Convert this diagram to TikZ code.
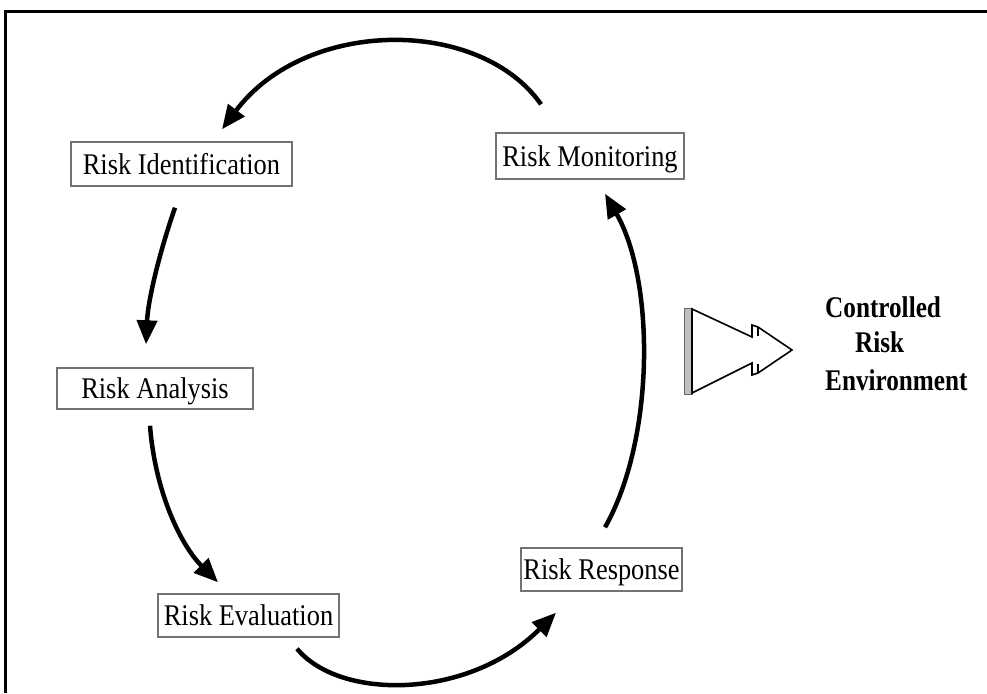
\documentclass[tikz,border=0pt]{standalone}
\usepackage{graphicx}
\usepackage{fontspec}
\setmainfont{Liberation Serif}
\usetikzlibrary{arrows.meta}
% slightly condensed lettering
\newcommand{\narrowtext}[1]{\scalebox{0.88}[1]{#1}}
\newcommand{\narrowbold}[1]{\scalebox{0.84}[1]{\bfseries #1}}
\begin{document}
\begin{tikzpicture}[x=1pt,y=-1pt,
  stage/.style={draw=black!55, line width=1.4pt, inner sep=0pt,
    text height=20pt, text depth=0pt, font=\fontsize{30}{36}\selectfont},
  ctext/.style={inner sep=0pt, anchor=base west, font=\fontsize{30}{36}\selectfont},
  flow/.style={line width=4.5pt, -{Triangle[length=24pt,width=20pt]}},
  ]
\useasboundingbox (0,0) rectangle (987,693);
\fill[white] (0,0) rectangle (987,693);
% frame (left and top edges)
\draw[line width=3pt] (5.5,693) -- (5.5,11.5) -- (987,11.5);

% the five stages of the cycle
\node[stage, minimum width=221pt, minimum height=44pt] (ident) at (181.5,164) {\narrowtext{Risk Identification}};
\node[stage, minimum width=188pt, minimum height=46pt] (monit) at (590,156) {\narrowtext{Risk Monitoring}};
\node[stage, minimum width=196pt, minimum height=41pt] (anal) at (155,388.5) {\narrowtext{Risk Analysis}};
\node[stage, minimum width=181pt, minimum height=43pt] (evalu) at (248.5,615.5) {\narrowtext{Risk Evaluation}};
\node[stage, minimum width=161pt, minimum height=43pt] (resp) at (601.5,569.5) {\narrowtext{Risk Response}};

% cycle arrows
\draw[flow] ([shift={(-49,-28)}]monit.north) .. controls +(-61,-87) and +(84,-112) .. ([shift={(40.5,-12)}]ident.north);
\draw[flow] ([shift={(-6.5,21)}]ident.south) .. controls +(-15,43) and +(2,-45) .. ([shift={(-9,-23)}]anal.north);
\draw[flow] ([shift={(-5,16)}]anal.south) .. controls +(5,65) and +(-38,-38) .. ([shift={(-30.5,-11)}]evalu.north);
\draw[flow] ([shift={(48.5,11)}]evalu.south) .. controls +(43,52) and +(-87,87) .. ([shift={(-45.5,21)}]resp.south);
\draw[flow] ([shift={(3.5,-20)}]resp.north) .. controls +(50,-88) and +(50,87) .. ([shift={(15,14)}]monit.south);

% outlined block arrow
\filldraw[fill=black!25, draw=black!60, line width=0.8pt] (684,308) rectangle (692,394);
\draw[line width=1.6pt, fill=white, line join=miter]
  (692,309) -- (752,337) -- (752,325) -- (758,327) -- (792,350)
  -- (758,373) -- (752,375) -- (752,363) -- (692,393) -- cycle;
\draw[line width=1.2pt] (758,327) -- (758,336) (758,373) -- (758,364);

% outcome label
\node[ctext] (ctl1) at (825,317) {\narrowbold{Controlled}};
\node[ctext] (ctl2) at (855,352) {\narrowbold{Risk}};
\node[ctext] (ctl3) at (825,390) {\narrowbold{Environment}};
\end{tikzpicture}
\end{document}
